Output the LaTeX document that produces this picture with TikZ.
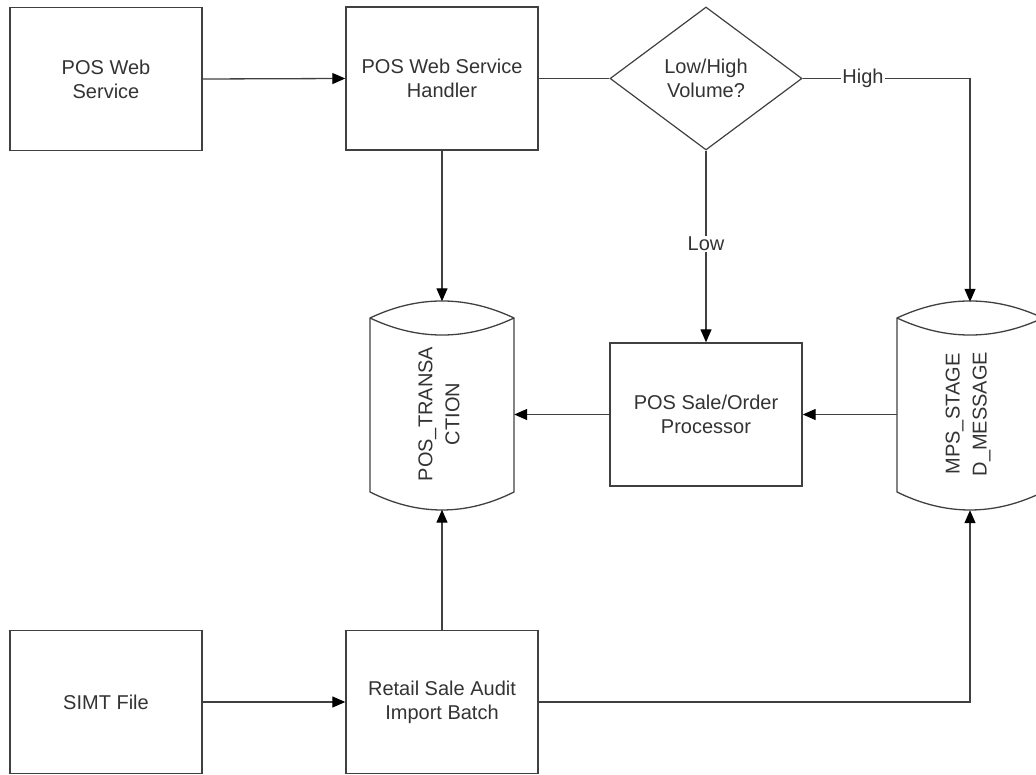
\documentclass[tikz,border=0pt]{standalone}
\usepackage{fontspec}
\setmainfont{Liberation Sans}
\usetikzlibrary{arrows.meta,shapes.geometric}
\definecolor{linec}{HTML}{404040}
\definecolor{textc}{HTML}{333333}
\newcommand{\drawdb}[2]{%
  \draw[dbline] (#1,318) .. controls ({#1+(#2-#1)/3},295.3) and ({#1+2*(#2-#1)/3},295.3) .. (#2,318)
    -- (#2,492) .. controls ({#1+2*(#2-#1)/3},516) and ({#1+(#2-#1)/3},516) .. (#1,492) -- cycle;
  \draw[dbline] (#1,318) .. controls ({#1+(#2-#1)/3},340.7) and ({#1+2*(#2-#1)/3},340.7) .. (#2,318);
}
\begin{document}
\begin{tikzpicture}[x=1pt,y=-1pt,
  every node/.style={text=textc,font=\fontsize{20}{24}\selectfont},
  procbox/.style={draw=linec,line width=1.4pt,minimum width=192pt,minimum height=143pt,inner sep=0pt,align=center},
  decbox/.style={draw=linec,line width=1.2pt,shape=diamond,minimum width=192pt,minimum height=143pt,inner sep=0pt,aspect=1.34,align=center},
  dbhold/.style={minimum width=#1,minimum height=208pt,inner sep=0pt},
  dbline/.style={draw=linec,line width=1.3pt},
  dbtext/.style={rotate=90,align=center,font=\fontsize{20}{27}\selectfont},
  conn/.style={draw=linec,line width=1.3pt},
  arr/.style={conn,-{Triangle[length=13pt,width=11pt,color=black]}},
  lbl/.style={fill=white,inner sep=1pt}]
\path[use as bounding box,clip] (0,0) rectangle (1036,775);

\node[procbox] (pws) at (106,79) {POS Web\\Service};
\node[procbox] (handler) at (442,78.5) {POS Web Service\\Handler};
\node[decbox] (dec) at (706,78.5) {Low/High\\Volume?};
\node[procbox] (proc) at (706,414.5) {POS Sale/Order\\Processor};
\node[procbox] (simt) at (106,702) {SIMT File};
\node[procbox] (retail) at (442,702) {Retail Sale Audit\\Import Batch};

\drawdb{370}{514}
\drawdb{897}{1043}
\node[dbhold=144pt] (pt) at (442,405.5) {};
\node[dbhold=146pt] (mps) at (970,406) {};
\node[dbtext] (pttext) at (439,414) {POS\_TRANSA\\CTION};
\node[dbtext] (mpstext) at (968,414) {MPS\_STAGE\\D\_MESSAGE};

\coordinate (highbend) at (970,78.5);
\coordinate (retbend) at (970,702);

\draw[arr] (pws.east) -- (handler.west);
\draw[conn] (handler.east) -- (dec.west);
\draw[arr] (dec.east) -- (highbend) -- (mps.north);
\node[lbl] (highlbl) at (863,78.5) {High};
\draw[arr] (dec.south) -- (proc.north);
\node[lbl] (lowlbl) at (706,244) {Low};
\draw[arr] (handler.south) -- (pt.north);
\draw[arr] (proc.west) -- (pt.east |- proc.west);
\draw[arr] (mps.west |- proc.east) -- (proc.east);
\draw[arr] (simt.east) -- (retail.west);
\draw[arr] (retail.north) -- (pt.south);
\draw[arr] (retail.east) -- (retbend) -- (mps.south);
\end{tikzpicture}
\end{document}
